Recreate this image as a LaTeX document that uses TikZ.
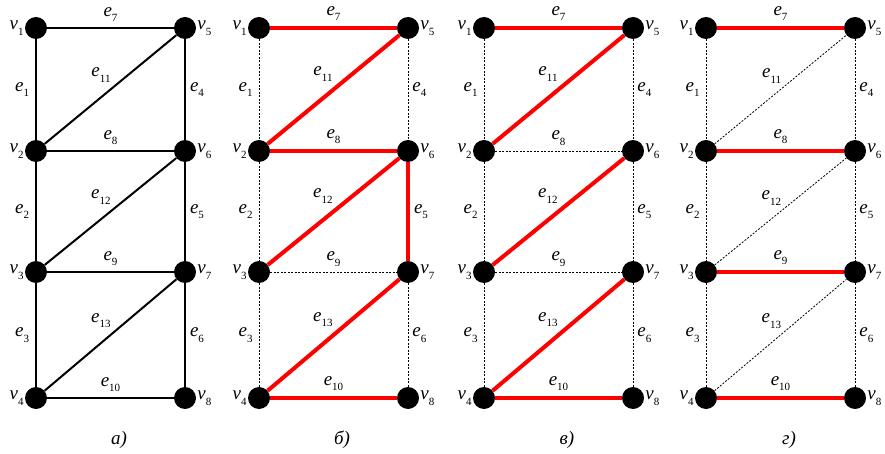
\documentclass[tikz,border=0pt]{standalone}
\usepackage{fontspec}
\setmainfont{Liberation Serif}
\usetikzlibrary{positioning}
\newcommand{\ix}[2]{\textit{#1}\raisebox{-0.3em}{\fontsize{11}{11}\selectfont #2}}

\begin{document}
\begin{tikzpicture}[x=1pt, y=-1pt,
    every node/.style={font=\fontsize{19}{22}\selectfont, inner sep=1pt, text=black},
    vert/.style={circle, fill=black, minimum size=22pt, inner sep=0pt},
    plain/.style={line width=2pt},
    tree/.style={line width=4pt, red},
    cut/.style={line width=0.8pt, dash pattern=on 2pt off 1.5pt},
    lbl left/.style={midway, left=5pt},
    lbl right/.style={midway, right=3pt},
    lbl above/.style={midway, above=4pt},
    lbl diag/.style={midway, anchor=south east, xshift=2pt, yshift=5pt}]
  \useasboundingbox (0,0) rectangle (885,454);
  % the four panels: vertices and captions
  \foreach \p/\x/\c in {a/36/а), b/259/б), c/484/в), d/706/г)} {
    \foreach \i/\y in {1/28, 2/151, 3/272, 4/398} {
      \node[vert] (\p\i) at (\x,\y) {};
      \node[left=0pt of \p\i] (\p v\i) {\ix{v}{\i}};
    }
    \foreach \i/\y in {5/28, 6/151, 7/272, 8/398} {
      \node[vert] (\p\i) at (\x+149,\y) {};
      \node[right=0pt of \p\i] (\p v\i) {\ix{v}{\i}};
    }
    \node (\p cap) at (\x+83,440) {\textit{\c}};
  }
  % edges: from/to/number/label/style in a, b, c, d
  \foreach \s/\t/\n/\pos/\sa/\sb/\sc/\sd in {
      1/2/1/lbl left/plain/cut/cut/cut,
      2/3/2/lbl left/plain/cut/cut/cut,
      3/4/3/lbl left/plain/cut/cut/cut,
      5/6/4/lbl right/plain/cut/cut/cut,
      6/7/5/lbl right/plain/tree/cut/cut,
      7/8/6/lbl right/plain/cut/cut/cut,
      1/5/7/lbl above/plain/tree/tree/tree,
      2/6/8/lbl above/plain/tree/cut/tree,
      3/7/9/lbl above/plain/cut/cut/tree,
      4/8/10/lbl above/plain/tree/tree/tree,
      2/5/11/lbl diag/plain/tree/tree/cut,
      3/6/12/lbl diag/plain/tree/tree/cut,
      4/7/13/lbl diag/plain/tree/tree/cut} {
    \draw[\sa] (a\s) -- node[\pos] (ae\n) {\ix{e}{\n}} (a\t);
    \draw[\sb] (b\s) -- node[\pos] (be\n) {\ix{e}{\n}} (b\t);
    \draw[\sc] (c\s) -- node[\pos] (ce\n) {\ix{e}{\n}} (c\t);
    \draw[\sd] (d\s) -- node[\pos] (de\n) {\ix{e}{\n}} (d\t);
  }
\end{tikzpicture}
\end{document}
